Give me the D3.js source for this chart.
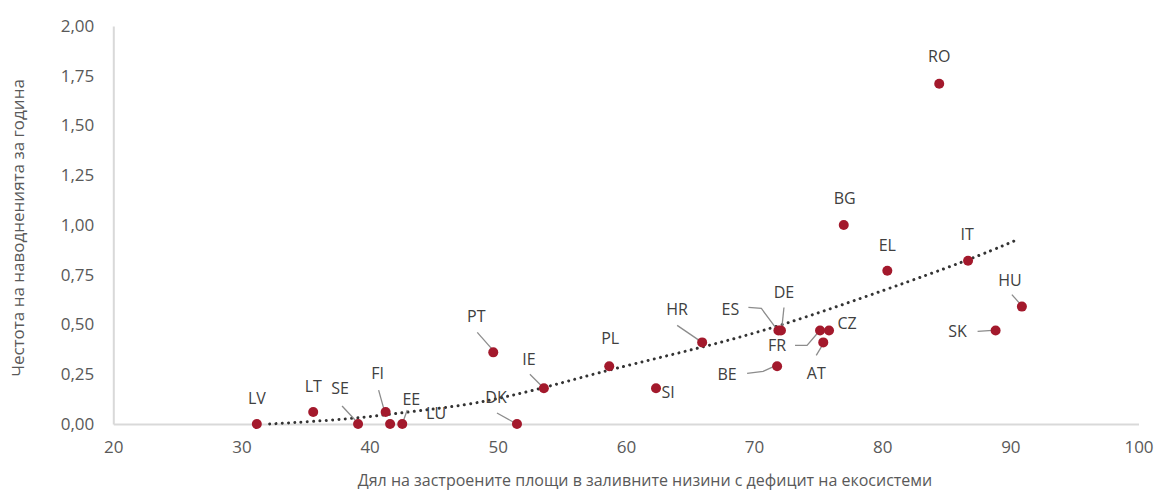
<!DOCTYPE html>
<html>
<head>
<meta charset="utf-8">
<script src="https://cdn.jsdelivr.net/npm/d3@7"></script>
<style>
  body { margin: 0; background: #fff; }
  text { font-family: "Open Sans", "DejaVu Sans", sans-serif; }
</style>
</head>
<body>
<svg></svg>
<script>
var width = 1159;
var height = 492;

// data
var countries = ["LV","LT","SE","FI","LU","EE","PT","DK","IE","PL","SI","HR","ES","DE","BE","FR","CZ","AT","BG","EL","RO","IT","SK","HU"];
var builtShare = [31.2,35.6,39.1,41.25,41.6,42.55,49.65,51.5,53.6,58.7,62.35,65.95,71.9,72.1,71.8,75.15,75.85,75.4,77.0,80.4,84.45,86.7,88.85,90.9];
var floodFreq = [0,0.06,0,0.06,0,0,0.36,0,0.18,0.29,0.18,0.41,0.47,0.47,0.29,0.47,0.47,0.41,1.00,0.77,1.71,0.82,0.47,0.59];
// trendline as drawn in the picture (clipped at 0 on the left)
var trendX = [32.2,38.5,43.2,47.6,50.9,54.1,58.8,66.0,72.0,80.6,86.6,90.5];
var trendY = [0,0.024,0.062,0.095,0.14,0.19,0.275,0.385,0.49,0.682,0.82,0.925];
var xTicks = [20,30,40,50,60,70,80,90,100];
var yTicks = [0,0.25,0.5,0.75,1,1.25,1.5,1.75,2];

// label placement: text centre offset and leader path, px relative to the dot
var labelLayout = {
  LV: {dx: 0, dy: -26},
  LT: {dx: 0, dy: -26},
  SE: {dx: -18, dy: -36, leader: [[-16,-18],[-3,-4]]},
  FI: {dx: -8, dy: -39, leader: [[-7,-22],[-2,-4]]},
  EE: {dx: 9, dy: -25, leader: [[5,-14],[1,-3]]},
  LU: {dx: 46, dy: -11},
  DK: {dx: -21, dy: -27, leader: [[-20,-11],[-2,-1]]},
  PT: {dx: -17, dy: -36, leader: [[-16,-20],[-1,-3]]},
  IE: {dx: -15, dy: -29, leader: [[-14,-14],[-2,-2]]},
  PL: {dx: 1, dy: -28},
  SI: {dx: 12, dy: 4},
  HR: {dx: -25, dy: -33, leader: [[-25,-17],[-3,-2]]},
  ES: {dx: -48, dy: -21, leader: [[-30,-23],[-17,-22],[-3,-3]]},
  DE: {dx: 3, dy: -38, leader: [[3,-23],[1,-4]]},
  FR: {dx: -43, dy: 15, leader: [[-25,15],[-13,15],[-2,2]]},
  BE: {dx: -50, dy: 8, leader: [[-30,7],[-14,5],[-3,0]]},
  CZ: {dx: 18, dy: -7},
  AT: {dx: -7, dy: 31, leader: [[-7,13],[-1,3]]},
  BG: {dx: 1, dy: -27},
  EL: {dx: 0, dy: -26},
  RO: {dx: 0, dy: -28},
  IT: {dx: -1, dy: -27},
  SK: {dx: -38, dy: 1, leader: [[-18,1],[-3,0]]},
  HU: {dx: -12, dy: -27, leader: [[-10,-12],[-2,-3]]}
};

var points = countries.map((c, i) => ({name: c, x: builtShare[i], y: floodFreq[i]}));
var trend = trendX.map((x, i) => [x, trendY[i]]);

var xScale = d3.scaleLinear().domain([20, 100]).range([113.3, 1138.5]);
var yScale = d3.scaleLinear().domain([0, 2]).range([424, 26]);

var svg = d3.select("svg")
    .attr("width", width)
    .attr("height", height);

// axes
var yAxis = d3.axisLeft(yScale)
    .tickValues(yTicks)
    .tickSize(0)
    .tickPadding(19)
    .tickFormat(d => d3.format(".2f")(d).replace(".", ","));

var xAxis = d3.axisBottom(xScale)
    .tickValues(xTicks)
    .tickSize(0)
    .tickPadding(17)
    .tickFormat(d3.format("d"));

var gy = svg.append("g")
    .attr("transform", `translate(${xScale(20)},0)`)
    .call(yAxis);

var gx = svg.append("g")
    .attr("transform", `translate(0,${yScale(0)})`)
    .call(xAxis);

[gx, gy].forEach(g => {
    g.select(".domain").attr("stroke", "#d9d9d9").attr("stroke-width", 2);
    g.selectAll("text").attr("fill", "#595959").style("font-size", "17px");
});

svg.append("path")
    .datum(trend)
    .attr("fill", "none")
    .attr("stroke", "#333")
    .attr("stroke-width", 3)
    .attr("stroke-linecap", "round")
    .attr("stroke-dasharray", "0.01,6.3")
    .attr("d", d3.line().curve(d3.curveBasis).x(d => xScale(d[0])).y(d => yScale(d[1])));

// leaders
svg.append("g")
    .selectAll("path")
    .data(points.filter(d => labelLayout[d.name].leader))
    .join("path")
    .attr("fill", "none")
    .attr("stroke", "#8c8c8c")
    .attr("stroke-width", 1.3)
    .attr("d", d => {
        var px = xScale(d.x), py = yScale(d.y);
        return d3.line()(labelLayout[d.name].leader.map(o => [px + o[0], py + o[1]]));
    });

// dots
svg.append("g")
    .selectAll("circle")
    .data(points)
    .join("circle")
    .attr("cx", d => xScale(d.x))
    .attr("cy", d => yScale(d.y))
    .attr("r", 5)
    .attr("fill", "#a3192c");

// labels
svg.append("g")
    .selectAll("text")
    .data(points)
    .join("text")
    .attr("x", d => xScale(d.x) + labelLayout[d.name].dx)
    .attr("y", d => yScale(d.y) + labelLayout[d.name].dy + 6)
    .attr("text-anchor", "middle")
    .attr("fill", "#404040")
    .style("font-size", "16px")
    .text(d => d.name);

// axis titles
svg.append("text")
    .attr("x", 645)
    .attr("y", 486)
    .attr("text-anchor", "middle")
    .attr("fill", "#595959")
    .style("font-size", "16px")
    .text("Дял на застроените площи в заливните низини с дефицит на екосистеми");

svg.append("text")
    .attr("transform", "rotate(-90)")
    .attr("x", -228)
    .attr("y", 24)
    .attr("text-anchor", "middle")
    .attr("fill", "#595959")
    .style("font-size", "17px")
    .text("Честота на наводненията за година");
</script>
</body>
</html>
